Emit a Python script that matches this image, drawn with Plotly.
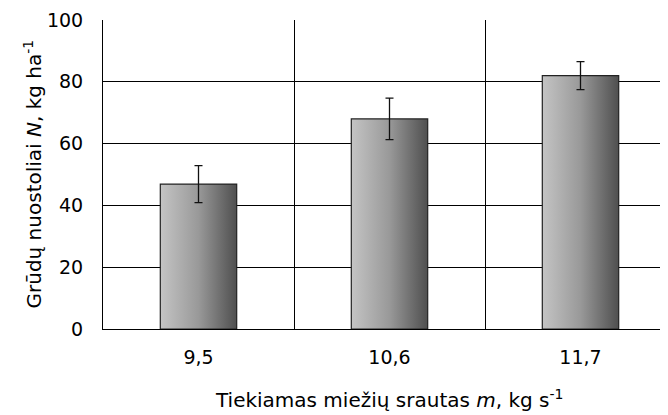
import plotly.graph_objects as go

categories = ["9,5", "10,6", "11,7"]
values = [46.9, 68.0, 82.0]
errors = [6.0, 6.7, 4.5]
y_ticks = [0, 20, 40, 60, 80, 100]

BAR_HALF = 0.2
FONT = "DejaVu Sans, Liberation Sans, Arial, sans-serif"
FS = 19

fig = go.Figure()
xs = list(range(len(categories)))

# gradient-filled bars
for i, v in zip(xs, values):
    fig.add_trace(go.Scatter(
        x=[i - BAR_HALF, i + BAR_HALF, i + BAR_HALF, i - BAR_HALF, i - BAR_HALF],
        y=[0, 0, v, v, 0],
        mode="lines", fill="toself",
        line=dict(color="#222222", width=1.2),
        fillgradient=dict(type="horizontal",
                          colorscale=[[0, "#c4c4c4"], [0.5, "#999999"], [1, "#4f4f4f"]]),
        hoverinfo="skip", showlegend=False,
    ))

# error bars
fig.add_trace(go.Scatter(
    x=xs, y=values, mode="markers",
    marker=dict(size=1, color="rgba(0,0,0,0)"),
    error_y=dict(type="data", array=errors, visible=True, color="#111111",
                 thickness=1.3, width=4),
    showlegend=False,
))

fig.update_layout(
    width=668, height=415,
    margin=dict(l=95, r=0, t=12, b=94),
    paper_bgcolor="white", plot_bgcolor="white",
    font=dict(family=FONT, size=FS, color="black"),
    xaxis=dict(
        range=[-0.5, 2.5],
        tickvals=xs, ticktext=categories,
        showgrid=False, zeroline=False,
        showline=True, linecolor="black", linewidth=1,
        ticks="", ticklen=0, ticklabelstandoff=11,
        minor=dict(tickvals=[0.5, 1.5], showgrid=True, gridcolor="black", gridwidth=1, ticks=""),
    ),
    yaxis=dict(
        range=[0, 100], tickvals=y_ticks,
        showgrid=True, gridcolor="black", gridwidth=1,
        zeroline=False, showline=True, linecolor="black", linewidth=1,
        ticks="", ticklabelstandoff=15,
    ),
    annotations=[
        dict(text="Tiekiamas miežių srautas <i>m</i>, kg s<sup>-1</sup>",
             xref="paper", yref="paper", x=0.5, y=0, xanchor="center", yanchor="middle",
             yshift=-70, showarrow=False, font=dict(size=20)),
        dict(text="Grūdų nuostoliai <i>N</i>, kg ha<sup>-1</sup>",
             xref="paper", yref="paper", x=0, y=0.5, xanchor="center", yanchor="middle",
             xshift=-71, textangle=-90, showarrow=False, font=dict(size=20)),
    ],
)

fig.write_html("out.html")
